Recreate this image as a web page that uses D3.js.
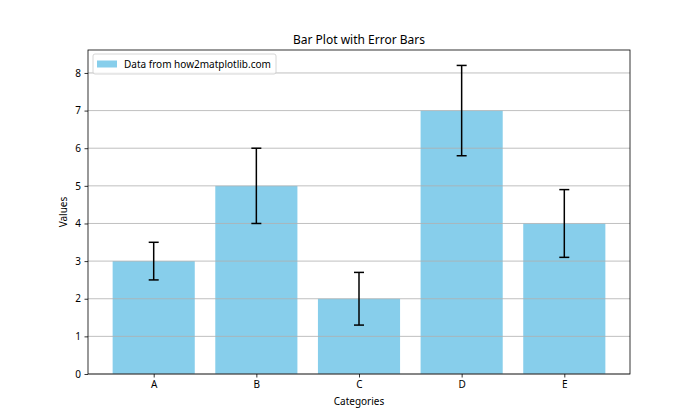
<!DOCTYPE html>
<html lang="en">
<head>
<meta charset="UTF-8">
<title>Bar Plot with Error Bars</title>
<script src="https://cdn.jsdelivr.net/npm/d3@7"></script>
<style>
  body { margin: 0; background: #fff; }
  text { font-family: 'Noto Sans', 'DejaVu Sans', sans-serif; fill: #000; }
</style>
</head>
<body>
<div id="chart"></div>
<script>
const categories = ["A", "B", "C", "D", "E"]
const values = [3, 5, 2, 7, 4]
const errors = [0.5, 1, 0.7, 1.2, 0.9]
const yTicks = [0, 1, 2, 3, 4, 5, 6, 7, 8]

const width = 700, height = 420
const margin = { top: 50, right: 70, bottom: 46, left: 88 }
const innerW = width - margin.left - margin.right
const innerH = height - margin.top - margin.bottom

const svg = d3.select("#chart").append("svg")
  .attr("width", width)
  .attr("height", height)

const g = svg.append("g").attr("transform", `translate(${margin.left},${margin.top})`)

// matplotlib style: index positions, bar width 0.8, 5% margins
const x = d3.scaleLinear()
  .domain([-0.4 - 0.24, categories.length - 1 + 0.4 + 0.24])
  .range([0, innerW])
const yMax = d3.max(values.map((v, i) => v + errors[i])) * 1.05
const y = d3.scaleLinear().domain([0, yMax]).range([innerH, 0])
const bw = x(0.8) - x(0)

g.selectAll("rect.bar")
  .data(values)
  .enter().append("rect")
  .attr("class", "bar")
  .attr("x", (d, i) => x(i) - bw / 2)
  .attr("y", d => y(d))
  .attr("width", bw)
  .attr("height", d => y(0) - y(d))
  .attr("fill", "#87ceeb")

// grid drawn over the bars
g.selectAll("line.grid")
  .data(yTicks)
  .enter().append("line")
  .attr("x1", 0).attr("x2", innerW)
  .attr("y1", d => y(d)).attr("y2", d => y(d))
  .attr("stroke", "#b0b0b0")
  .attr("stroke-width", 0.8)

// error bars
const eb = g.selectAll("g.err").data(values).enter().append("g")
eb.append("line")
  .attr("x1", (d, i) => x(i)).attr("x2", (d, i) => x(i))
  .attr("y1", (d, i) => y(d - errors[i])).attr("y2", (d, i) => y(d + errors[i]))
  .attr("stroke", "#000").attr("stroke-width", 1.5)
eb.append("line")
  .attr("x1", (d, i) => x(i) - 5).attr("x2", (d, i) => x(i) + 5)
  .attr("y1", (d, i) => y(d - errors[i])).attr("y2", (d, i) => y(d - errors[i]))
  .attr("stroke", "#000").attr("stroke-width", 1.5)
eb.append("line")
  .attr("x1", (d, i) => x(i) - 5).attr("x2", (d, i) => x(i) + 5)
  .attr("y1", (d, i) => y(d + errors[i])).attr("y2", (d, i) => y(d + errors[i]))
  .attr("stroke", "#000").attr("stroke-width", 1.5)

// axes
const xAxis = g.append("g")
  .attr("transform", `translate(0,${innerH})`)
  .call(d3.axisBottom(x).tickValues(d3.range(categories.length)).tickFormat(i => categories[i]).tickSize(3.5).tickPadding(3.5))
const yAxis = g.append("g")
  .call(d3.axisLeft(y).tickValues(yTicks).tickSize(3.5).tickPadding(3.5))
for (const a of [xAxis, yAxis]) {
  a.select(".domain").remove()
  a.selectAll("line").attr("stroke", "#000").attr("stroke-width", 0.8)
  a.selectAll("text").attr("font-size", 10).attr("font-family", "'Noto Sans', sans-serif")
}

g.append("rect")
  .attr("width", innerW).attr("height", innerH)
  .attr("fill", "none").attr("stroke", "#000").attr("stroke-width", 0.8)

// labels
svg.append("text")
  .attr("x", margin.left + innerW / 2).attr("y", 44)
  .attr("text-anchor", "middle").attr("font-size", 12)
  .text("Bar Plot with Error Bars")
svg.append("text")
  .attr("x", margin.left + innerW / 2).attr("y", 405)
  .attr("text-anchor", "middle").attr("font-size", 10)
  .text("Categories")
svg.append("text")
  .attr("transform", `translate(67,${margin.top + innerH / 2}) rotate(-90)`)
  .attr("text-anchor", "middle").attr("font-size", 10)
  .text("Values")

// legend
const lg = g.append("g").attr("transform", "translate(5,4)")
lg.append("rect")
  .attr("width", 183).attr("height", 20).attr("rx", 2)
  .attr("fill", "#fff").attr("fill-opacity", 0.8)
  .attr("stroke", "#ccc").attr("stroke-width", 0.8)
lg.append("rect")
  .attr("x", 4).attr("y", 6.5).attr("width", 20).attr("height", 7)
  .attr("fill", "#87ceeb")
lg.append("text")
  .attr("x", 31).attr("y", 14).attr("font-size", 10)
  .text("Data from how2matplotlib.com")
</script>
</body>
</html>
